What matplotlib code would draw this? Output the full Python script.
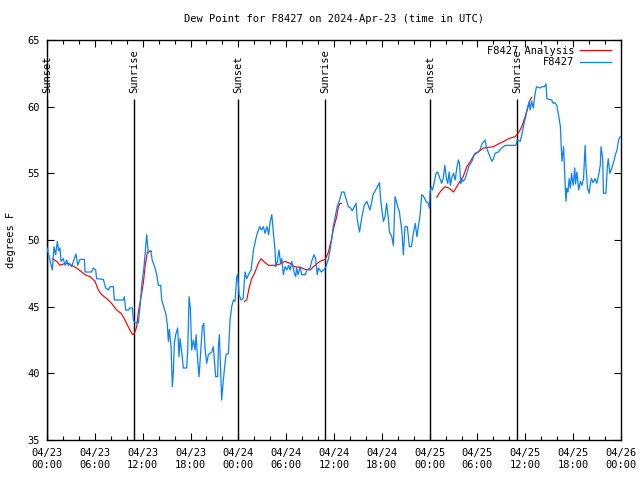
import numpy as np
import matplotlib
matplotlib.use('Agg')
import matplotlib.pyplot as plt

# hours since 2024-04-23 00:00 UTC
obs_hours = [0.0, 0.67, 0.88, 1.09, 1.3, 1.46, 1.63, 1.76, 2.05, 2.26, 2.47, 2.68, 2.89, 3.1,
             3.43, 3.64, 3.85, 4.14, 4.69, 4.77, 5.6, 5.81, 6.1, 6.23, 7.07, 7.36, 7.7, 7.9,
             8.32, 8.45, 9.58, 9.7, 9.87, 10.2, 10.4, 10.7, 10.83, 11.04, 11.46, 11.67, 11.88,
             12.17, 12.3, 12.5, 12.7, 13.0, 13.2, 13.55, 13.76, 13.97, 14.26, 14.39, 14.68,
             14.93, 15.1, 15.22, 15.35, 15.56, 15.72, 15.85, 15.97, 16.14, 16.39, 16.56, 16.69,
             16.9, 17.1, 17.52, 17.65, 17.82, 17.98, 18.15, 18.36, 18.57, 18.7, 18.9, 19.07,
             19.28, 19.49, 19.66, 19.82, 20.03, 20.24, 20.66, 20.87, 20.99, 21.16, 21.41, 21.5,
             21.62, 21.83, 21.91, 22.12, 22.33, 22.46, 22.75, 22.96, 23.17, 23.38, 23.59, 23.8,
             23.92, 24.09, 24.34, 24.6, 24.84, 25.05, 25.35, 25.6, 25.9, 26.2, 26.43, 26.7,
             26.9, 27.15, 27.35, 27.6, 27.8, 28.0, 28.2, 28.4, 28.6, 28.7, 28.9, 29.1, 29.3,
             29.45, 29.65, 29.86, 30.1, 30.3, 30.5, 30.7, 31.03, 31.2, 31.3, 31.5, 31.75, 31.95,
             32.4, 32.6, 33.0, 33.2, 33.5, 33.7, 33.9, 34.05, 34.4, 34.7, 35.0, 35.3, 35.5, 35.7,
             35.9, 36.1, 36.4, 36.7, 36.97, 37.26, 37.5, 37.8, 38.1, 38.3, 38.56, 38.77, 38.9,
             39.2, 39.5, 39.8, 40.1, 40.3, 40.5, 40.7, 40.9, 41.36, 41.7, 41.86, 42.0, 42.2,
             42.4, 42.6, 42.8, 42.95, 43.25, 43.45, 43.66, 43.95, 44.2, 44.5, 44.7, 44.9, 45.2,
             45.45, 45.7, 45.96, 46.2, 46.4, 46.6, 46.8, 47.0, 47.2, 47.55, 47.85, 47.97, 48.05,
             48.2, 48.35, 48.5, 48.8, 49.0, 49.3, 49.5, 49.7, 49.9, 50.1, 50.27, 50.44, 50.6,
             50.8, 51.0, 51.2, 51.4, 51.6, 51.74, 51.9, 52.0, 52.2, 52.45, 52.66, 52.9, 53.3,
             53.6, 53.9, 54.3, 54.6, 54.96, 55.1, 55.4, 55.8, 56.0, 56.2, 56.6, 57.0, 57.5,
             58.8, 59.0, 59.35, 59.56, 59.9, 60.1, 60.3, 60.5, 60.6, 60.8, 61.0, 61.2, 61.4,
             61.85, 62.1, 62.4, 62.6, 62.7, 63.3, 63.5, 63.7, 63.95, 64.2, 64.4, 64.5, 64.6,
             64.8, 65.0, 65.1, 65.2, 65.35, 65.5, 65.65, 65.8, 66.0, 66.2, 66.3, 66.46, 66.7,
             66.9, 67.1, 67.3, 67.5, 67.6, 67.8, 68.0, 68.2, 68.3, 68.5, 68.75, 68.97, 69.2,
             69.4, 69.5, 69.7, 69.8, 70.1, 70.3, 70.4, 70.6, 70.85, 71.1, 71.3, 71.5, 71.7, 71.9]
obs_dewpt = [49.4, 47.75, 49.5, 48.9, 49.9, 49.2, 49.4, 48.4, 48.6, 48.1, 48.5, 48.1, 48.2, 48.0,
             48.6, 48.95, 48.1, 48.55, 48.55, 47.6, 47.6, 47.9, 47.75, 47.1, 47.05, 46.4, 46.25, 46.5,
             46.5, 45.5, 45.5, 45.75, 44.75, 44.75, 44.9, 44.9, 44.0, 43.8, 43.8, 45.0, 46.6,
             48.0, 48.9, 50.4, 49.1, 49.2, 48.5, 47.9, 47.4, 46.6, 46.6, 45.5, 44.9,
             44.4, 43.6, 42.4, 43.3, 42.0, 39.0, 40.1, 42.25, 42.9, 43.4, 41.25, 42.6,
             41.6, 40.4, 40.4, 41.75, 45.75, 44.9, 41.75, 42.5, 41.75, 42.9, 41.0, 39.75,
             41.6, 43.5, 43.75, 41.9, 40.75, 41.4, 41.6, 42.0, 41.0, 39.75, 39.75, 42.0,
             42.9, 39.25, 38.0, 39.5, 40.75, 41.4, 41.5, 44.0, 45.0, 45.5, 45.4, 47.25,
             47.4, 45.9, 45.5, 45.6, 47.6, 47.1, 47.5, 47.75, 49.25, 50.1, 50.6, 51.0,
             50.75, 51.0, 50.5, 51.0, 50.4, 51.4, 51.9, 50.5, 49.25, 48.0, 48.4, 49.25, 48.25,
             48.6, 47.4, 48.0, 47.75, 48.1, 47.75, 48.4, 47.5, 47.25, 47.9, 47.4, 48.0, 47.4,
             47.4, 47.75, 47.9, 48.4, 48.9, 48.6, 47.4, 47.9, 47.6, 47.75, 48.0, 48.6, 49.25, 50.0,
             51.0, 51.6, 52.5, 53.0, 53.6, 53.6, 53.1, 52.5, 52.4, 52.2, 52.5, 52.75, 51.6,
             50.6, 51.75, 52.6, 52.9, 52.6, 52.25, 52.75, 53.4, 53.9, 54.3, 53.0, 52.25, 51.4,
             51.75, 52.75, 51.75, 50.6, 50.25, 49.6, 53.25, 52.6, 52.1, 50.75, 48.9, 51.0, 51.0,
             49.5, 49.5, 50.5, 51.25, 50.25, 51.1, 51.9, 53.4, 53.3, 52.9, 52.75, 52.4, 53.6,
             54.0, 53.75, 54.1, 55.0, 55.1, 54.6, 54.25, 54.6, 55.6, 54.6, 54.25, 55.1, 54.1,
             54.75, 55.0, 54.5, 55.4, 56.0, 55.75, 54.25, 54.6, 54.4, 54.6, 55.0, 55.5, 55.9,
             56.4, 56.5, 56.75, 57.25, 57.5, 57.0, 56.5, 55.9, 56.1, 56.5, 56.6, 56.9, 57.1,
             57.1, 57.5, 57.4, 57.9, 58.9, 59.4, 60.0, 60.4, 59.75, 60.4, 59.9, 60.9, 61.5,
             61.4, 61.5, 61.5, 61.7, 60.6, 60.5, 60.25, 60.3, 60.1, 59.25, 58.5, 57.0, 55.9,
             57.0, 54.1, 52.9, 53.9, 53.6, 54.6, 53.9, 55.0, 54.1, 55.4, 54.2, 55.1, 53.75,
             54.4, 54.1, 54.6, 57.1, 55.6, 53.9, 53.5, 54.4, 54.6, 54.3, 54.6, 54.25, 54.9,
             55.6, 57.0, 56.1, 53.5, 53.5, 55.6, 56.1, 55.0, 55.4, 55.9, 56.4, 56.75, 57.5, 57.75]

# analysis only exists around the night hours; nan marks the gaps
ana_hours = [0.67, 1.21, 1.63, 2.05, 2.68, 3.1, 3.72, 4.35, 4.77, 5.4, 6.02, 6.44, 6.86, 7.5,
             8.1, 8.74, 9.29, 9.7, 10.1, 10.54, 10.75, 11.04, 11.25, 11.46, 11.8, 12.09, 12.3,
             12.59, 13.1, 18.0,
             24.76, 25.05, 25.35, 25.68, 26.1, 26.5, 26.85, 27.35, 27.8, 28.6, 29.24, 29.86,
             30.5, 31.03, 31.75, 32.4, 33.0, 33.6, 34.25, 34.9, 35.3, 35.7, 36.0, 36.34, 36.55,
             36.76, 36.97, 42.0,
             48.9, 49.3, 49.9, 50.4, 51.0, 51.4, 51.8, 52.2, 52.66, 53.1, 53.7, 54.1, 54.75,
             55.4, 56.0, 56.6, 57.3, 57.9, 58.7, 59.1, 59.56, 59.97, 60.3, 60.6, 60.8]
ana_dewpt = [48.6, 48.4, 48.1, 48.2, 48.25, 48.1, 47.9, 47.6, 47.4, 47.25, 46.9, 46.25, 45.9, 45.6,
             45.25, 44.75, 44.5, 44.1, 43.6, 43.1, 42.9, 43.1, 43.5, 44.6, 45.75, 46.8, 48.0,
             49.1, 49.15, np.nan,
             45.4, 45.5, 46.4, 47.1, 47.6, 48.25, 48.6, 48.3, 48.1, 48.1, 48.2, 48.4,
             48.25, 48.0, 47.95, 47.8, 47.75, 48.1, 48.4, 48.55, 49.1, 50.1, 51.0, 51.75, 52.5,
             52.75, 52.75, np.nan,
             53.2, 53.6, 54.0, 53.9, 53.6, 54.0, 54.4, 54.75, 55.5, 55.9, 56.5, 56.6, 56.9,
             56.95, 57.0, 57.2, 57.4, 57.6, 57.75, 58.0, 58.5, 59.25, 59.9, 60.5, 60.7]

sun_hours = [0.0, 10.95, 24.0, 34.9, 48.05, 59.0]
sun_labels = ['Sunset', 'Sunrise', 'Sunset', 'Sunrise', 'Sunset', 'Sunrise']

tick_hours = [0, 6, 12, 18, 24, 30, 36, 42, 48, 54, 60, 66, 72]
tick_labels = ['04/23\n00:00', '04/23\n06:00', '04/23\n12:00', '04/23\n18:00',
               '04/24\n00:00', '04/24\n06:00', '04/24\n12:00', '04/24\n18:00',
               '04/25\n00:00', '04/25\n06:00', '04/25\n12:00', '04/25\n18:00',
               '04/26\n00:00']

plt.rcParams['font.family'] = 'DejaVu Sans Mono'
plt.rcParams['font.size'] = 7.5

fig = plt.figure(figsize=(6.4, 4.8), dpi=100)
ax = fig.add_axes([47 / 640, 40 / 480, 574 / 640, 400 / 480])

for h, lab in zip(sun_hours, sun_labels):
    ax.vlines(h, 35, 60.6, color='black', lw=1.0, zorder=1)
    ax.text(h, 61.05, lab, rotation=90, ha='center', va='bottom', fontsize=7.5)

ax.plot(ana_hours, ana_dewpt, color='#ff0000', lw=0.85, label='F8427 Analysis', zorder=2)
ax.plot(obs_hours, obs_dewpt, color='#0a80ff', lw=0.9, label='F8427', zorder=3)

ax.set_xlim(0, 72)
ax.set_ylim(35, 65)
ax.set_xticks(tick_hours)
ax.set_xticklabels(tick_labels, linespacing=1.25)
ax.set_xticks(np.arange(0, 73, 2), minor=True)
ax.set_yticks(np.arange(35, 66, 5))
ax.tick_params(which='both', direction='in', top=True, right=True)
ax.tick_params(which='major', length=5, width=0.8)
ax.tick_params(which='minor', length=3, width=0.8)
ax.tick_params(axis='x', pad=6)
ax.tick_params(axis='y', pad=5)
for s in ax.spines.values():
    s.set_linewidth(1.0)

leg = ax.legend(loc='upper right', bbox_to_anchor=(0.992, 1.0), frameon=False,
                markerfirst=False, handlelength=2.9, handletextpad=0.6,
                labelspacing=0.15, borderaxespad=0.15, fontsize=7.5)

fig.text(334 / 640, 1 - 19 / 480, 'Dew Point for F8427 on 2024-Apr-23 (time in UTC)',
         ha='center', va='center', fontsize=7.5)
fig.text(11 / 640, 0.5, 'degrees F', rotation=90, ha='center', va='center', fontsize=7.5)

fig.savefig('out.png', dpi=100)
